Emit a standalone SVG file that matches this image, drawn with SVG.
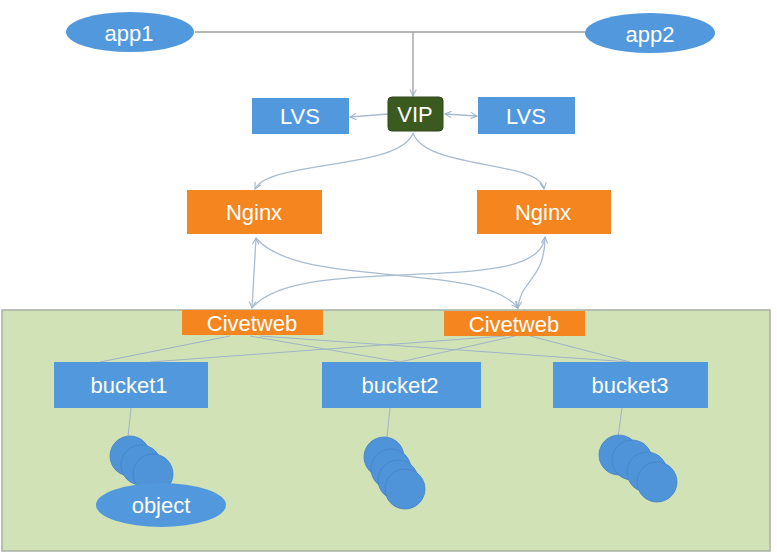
<svg xmlns="http://www.w3.org/2000/svg" width="777" height="556" viewBox="0 0 777 556">
<style>
.blue{fill:#5298dc}
.orange{fill:#f5851f}
.t{font-family:"Liberation Sans",Arial,sans-serif;font-size:22px;fill:#ffffff;text-anchor:middle;dominant-baseline:central}
.c{fill:none;stroke:#a9bccf;stroke-width:1.3}
.g{fill:none;stroke:#9fb4c6;stroke-width:1}
.k{fill:none;stroke:#9e9e9e;stroke-width:1.3}
.circ{fill:#4f93d9;stroke:#4583c6;stroke-width:0.8}
</style>
<defs>
<marker id="a" viewBox="0 0 10 10" refX="9" refY="5" markerWidth="8" markerHeight="8" orient="auto-start-reverse" markerUnits="userSpaceOnUse">
<path d="M1,1 L9,5 L1,9" fill="none" stroke="#9fb4c6" stroke-width="1.3"/>
</marker>
</defs>
<rect width="777" height="556" fill="#ffffff"/>
<g id="panel">
<rect x="2" y="310" width="768" height="241" fill="#d1e2b7" stroke="#a7b0a5" stroke-width="1.5"/>
</g>
<g id="connectors">
<path class="k" d="M195,32 H585"/>
<path class="k" d="M413,32 V96" marker-end="url(#a)"/>
<path class="c" d="M388,114 L350,117" marker-end="url(#a)"/>
<path class="c" d="M445,114 L477,116" marker-start="url(#a)" marker-end="url(#a)"/>
<path class="c" d="M413,133 C400,170 270,160 255,189" marker-end="url(#a)"/>
<path class="c" d="M413,133 C426,170 540,160 544,189" marker-end="url(#a)"/>
<path class="c" d="M256,238 L252,308" marker-start="url(#a)" marker-end="url(#a)"/>
<path class="c" d="M256,238 C300,290 480,260 518,308" marker-end="url(#a)"/>
<path class="c" d="M545,237 C540,300 300,250 252,308" marker-start="url(#a)"/>
<path class="c" d="M545,237 C545,280 520,280 518,308" marker-end="url(#a)"/>
<path class="g" d="M230,336 L100,362"/>
<path class="g" d="M250,336 L400,362"/>
<path class="g" d="M260,336 L630,362"/>
<path class="g" d="M505,336 L150,362"/>
<path class="g" d="M515,336 L400,362"/>
<path class="g" d="M530,336 L630,362"/>
<path class="g" d="M131,408 L128,437"/>
<path class="g" d="M390,408 L387,437"/>
<path class="g" d="M622,408 L618,437"/>
</g>
<g id="app1"><ellipse class="blue" cx="130" cy="32" rx="64" ry="20"/><text class="t" x="129" y="33">app1</text></g>
<g id="app2"><ellipse class="blue" cx="650" cy="33" rx="65" ry="20"/><text class="t" x="650" y="34">app2</text></g>
<g id="vip"><rect x="388" y="97" width="55" height="34" rx="4" fill="#3b5a1f" stroke="#2e4718"/><text class="t" x="415" y="114">VIP</text></g>
<g id="lvs1"><rect class="blue" x="252" y="98" width="97" height="36"/><text class="t" x="300" y="116">LVS</text></g>
<g id="lvs2"><rect class="blue" x="478" y="97" width="97" height="37"/><text class="t" x="526" y="116">LVS</text></g>
<g id="nginx1"><rect class="orange" x="187" y="190" width="135" height="44"/><text class="t" x="254" y="212">Nginx</text></g>
<g id="nginx2"><rect class="orange" x="477" y="190" width="134" height="44"/><text class="t" x="543" y="212">Nginx</text></g>
<g id="civetweb1"><rect class="orange" x="182" y="310" width="141" height="25"/><text class="t" x="252" y="323">Civetweb</text></g>
<g id="civetweb2"><rect class="orange" x="444" y="311" width="141" height="25"/><text class="t" x="514" y="324">Civetweb</text></g>
<g id="bucket1"><rect class="blue" x="54" y="362" width="154" height="46"/><text class="t" x="129" y="385">bucket1</text></g>
<g id="bucket2"><rect class="blue" x="322" y="362" width="159" height="46"/><text class="t" x="400" y="385">bucket2</text></g>
<g id="bucket3"><rect class="blue" x="553" y="362" width="155" height="46"/><text class="t" x="630" y="385">bucket3</text></g>
<g id="objects1">
<circle class="circ" cx="130" cy="456" r="20"/>
<circle class="circ" cx="141" cy="465" r="20"/>
<circle class="circ" cx="153" cy="474" r="20"/>
</g>
<g id="object"><ellipse class="blue" cx="161" cy="505" rx="65" ry="22"/><text class="t" x="161" y="505">object</text></g>
<g id="objects2">
<circle class="circ" cx="384" cy="457" r="20"/>
<circle class="circ" cx="391" cy="469" r="20"/>
<circle class="circ" cx="398" cy="480" r="20"/>
<circle class="circ" cx="405" cy="489" r="20"/>
</g>
<g id="objects3">
<circle class="circ" cx="619" cy="455" r="20"/>
<circle class="circ" cx="632" cy="460" r="20"/>
<circle class="circ" cx="647" cy="472" r="20"/>
<circle class="circ" cx="657" cy="482" r="20"/>
</g>
</svg>
